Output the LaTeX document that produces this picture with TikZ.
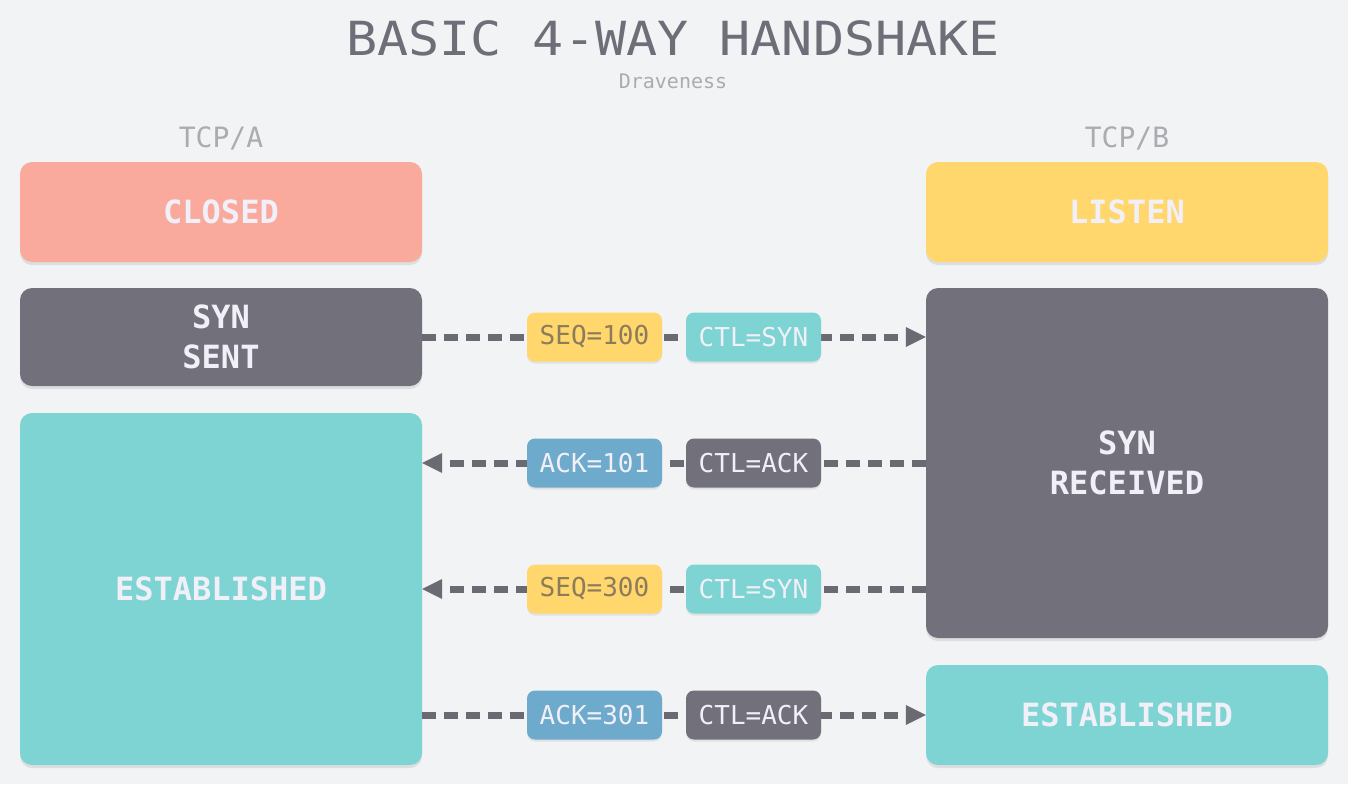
\documentclass[tikz,border=0pt]{standalone}
\usepackage{fontspec}
\setmonofont{DejaVu Sans Mono}
\usetikzlibrary{arrows.meta,shadows}
\definecolor{bg}{HTML}{F2F3F5}
\definecolor{salmon}{HTML}{F9AA9D}
\definecolor{darkg}{HTML}{72717B}
\definecolor{teal}{HTML}{7DD4D3}
\definecolor{yel}{HTML}{FFD76C}
\definecolor{blu}{HTML}{6EAACB}
\definecolor{linec}{HTML}{6B6A73}
\definecolor{titlec}{HTML}{6E6E78}
\definecolor{subc}{HTML}{ABABB0}
\definecolor{ytext}{HTML}{8C7C5C}
\definecolor{wtext}{HTML}{F1F0F8}
\tikzset{
  state/.style={rounded corners=12pt, inner sep=0pt, align=center,
    font=\ttfamily\bfseries\fontsize{32}{40}\selectfont, text=wtext,
    drop shadow={opacity=0.18, shadow xshift=0pt, shadow yshift=-3pt}},
  pill/.style={rounded corners=8pt, minimum width=135pt, minimum height=49pt, inner sep=0pt,
    font=\ttfamily\fontsize{26}{26}\selectfont, text=wtext,
    drop shadow={opacity=0.15, shadow xshift=0pt, shadow yshift=-2pt}},
  flow/.style={draw=linec, line width=7pt, dash pattern=on 14pt off 8pt,
    -{Triangle[length=20pt,width=20pt,line width=0pt]}},
  hdr/.style={font=\ttfamily\fontsize{28}{28}\selectfont, text=subc}
}
\begin{document}
\begin{tikzpicture}[x=1pt,y=-1pt]
\fill[bg] (0,0) rectangle (1348,784);
\useasboundingbox (0,0) rectangle (1348,784);

\node[font=\ttfamily\fontsize{47}{47}\selectfont, text=titlec] (title) at (673,38) {\scalebox{1.1}[1]{BASIC 4-WAY HANDSHAKE}};
\node[font=\ttfamily\fontsize{20}{20}\selectfont, text=subc] (sub) at (673,81) {Draveness};

\node[hdr] (tcpa) at (221,138) {TCP/A};
\node[hdr] (tcpb) at (1127,138) {TCP/B};

% left column
\node[state, fill=salmon, minimum width=402pt, minimum height=100pt] (closed) at (221,212) {CLOSED};
\node[state, fill=darkg, minimum width=402pt, minimum height=98pt] (synsent) at (221,337) {SYN\\SENT};
\node[state, fill=teal, minimum width=402pt, minimum height=352pt] (estA) at (221,589) {ESTABLISHED};

% right column
\node[state, fill=yel, minimum width=402pt, minimum height=100pt] (listen) at (1127,212) {LISTEN};
\node[state, fill=darkg, minimum width=402pt, minimum height=350pt] (synrcv) at (1127,463) {SYN\\RECEIVED};
\node[state, fill=teal, minimum width=402pt, minimum height=100pt] (estB) at (1127,715) {ESTABLISHED};

% coordinates for message rows
\coordinate (r1) at (673,337);
\coordinate (r2) at (673,463);
\coordinate (r3) at (673,589);
\coordinate (r4) at (673,715);

% connectors
\draw[flow] (synsent.east |- r1) -- (synrcv.west |- r1);
\draw[flow] (synrcv.west |- r2) -- (estA.east |- r2);
\draw[flow] (synrcv.west |- r3) -- (estA.east |- r3);
\draw[flow] (estA.east |- r4) -- (estB.west |- r4);

% pills
\node[pill, fill=yel, text=ytext] (seq100) at (594.5,337) {SEQ=100};
\node[pill, fill=teal] (ctlsyn1) at (753.5,337) {CTL=SYN};
\node[pill, fill=blu] (ack101) at (594.5,463) {ACK=101};
\node[pill, fill=darkg] (ctlack1) at (753.5,463) {CTL=ACK};
\node[pill, fill=yel, text=ytext] (seq300) at (594.5,589) {SEQ=300};
\node[pill, fill=teal] (ctlsyn2) at (753.5,589) {CTL=SYN};
\node[pill, fill=blu] (ack301) at (594.5,715) {ACK=301};
\node[pill, fill=darkg] (ctlack2) at (753.5,715) {CTL=ACK};
\end{tikzpicture}
\end{document}
